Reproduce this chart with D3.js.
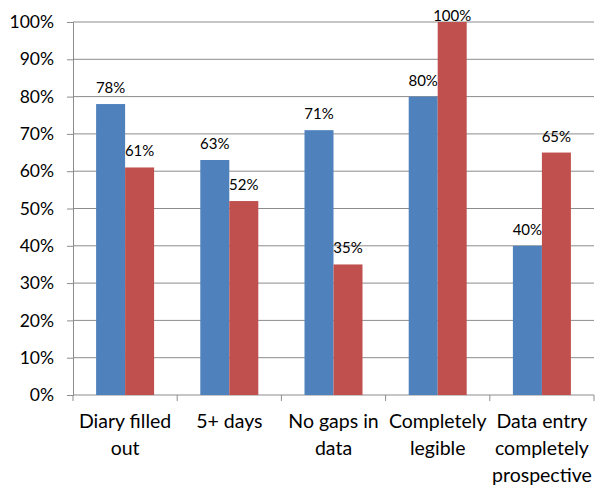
<!DOCTYPE html>
<html><head><meta charset="utf-8">
<script src="https://cdn.jsdelivr.net/npm/d3@7"></script>
<style>body{margin:0;background:#fff}</style>
</head><body>
<svg id="c" width="604" height="493"></svg>
<script>
const categories = [["Diary filled","out"],["5+ days"],["No gaps in","data"],["Completely","legible"],["Data entry","completely","prospective"]];
const seriesA = [78, 63, 71, 80, 40];
const seriesB = [61, 52, 35, 100, 65];
const yTicks = [0,10,20,30,40,50,60,70,80,90,100];
const colors = ["#4F81BD", "#C0504D"];

(function(){
const svg = d3.select("#c");
const font = "Lato, 'Open Sans', sans-serif";
const mLeft = 73, mRight = 594, mTop = 22, mBottom = 395;
const x = d3.scaleBand().domain(d3.range(categories.length)).range([mLeft, mRight]).paddingInner(0).paddingOuter(0);
const y = d3.scaleLinear().domain([0, 100]).range([mBottom, mTop]);
const axisColor = "#8c8c8c";

// gridlines
svg.append("g").selectAll("line").data(yTicks.filter(d=>d>0)).join("line")
  .attr("x1", mLeft).attr("x2", mRight).attr("y1", d=>y(d)).attr("y2", d=>y(d))
  .attr("stroke", axisColor).attr("stroke-width", 1);

// y axis
const ya = svg.append("g").attr("transform", `translate(${mLeft},0)`)
  .call(d3.axisLeft(y).tickValues(yTicks).tickFormat(d=>d+"%").tickSize(6).tickPadding(13));
ya.select(".domain").attr("stroke", axisColor);
ya.selectAll(".tick line").attr("stroke", axisColor);
ya.selectAll("text").attr("font-family", font).attr("font-size", 17.5).attr("fill", "#000");

// x axis
const xa = svg.append("g").attr("transform", `translate(0,${mBottom})`);
xa.append("line").attr("x1", mLeft).attr("x2", mRight).attr("stroke", axisColor);
const edges = d3.range(categories.length+1).map(i => i < categories.length ? x(i) : x(i-1)+x.bandwidth());
xa.selectAll("line.t").data(edges).join("line").attr("class","t")
  .attr("x1", d=>d).attr("x2", d=>d).attr("y1", 0).attr("y2", 6).attr("stroke", axisColor);
categories.forEach((lines, i) => {
  const t = xa.append("text").attr("text-anchor","middle").attr("font-family", font)
    .attr("font-size", 19.5).attr("fill","#000");
  lines.forEach((l, j) => t.append("tspan").attr("x", x(i)+x.bandwidth()/2).attr("y", 33 + j*27).text(l));
});

const bw = 29;
const series = [seriesA, seriesB];
series.forEach((vals, s) => {
  const g = svg.append("g");
  g.selectAll("rect").data(vals).join("rect")
    .attr("x", (d,i)=> x(i)+x.bandwidth()/2 - bw + s*bw)
    .attr("width", bw)
    .attr("y", d=>y(d)).attr("height", d=>mBottom - y(d))
    .attr("fill", colors[s]);
  g.selectAll("text").data(vals).join("text")
    .attr("x", (d,i)=> x(i)+x.bandwidth()/2 - bw/2 + s*bw)
    .attr("y", d=>Math.max(y(d) - 11, 21))
    .attr("text-anchor","middle").attr("font-family", font).attr("font-size", 15).attr("fill","#000")
    .text(d=>d+"%");
});
})();
</script>
</body></html>
